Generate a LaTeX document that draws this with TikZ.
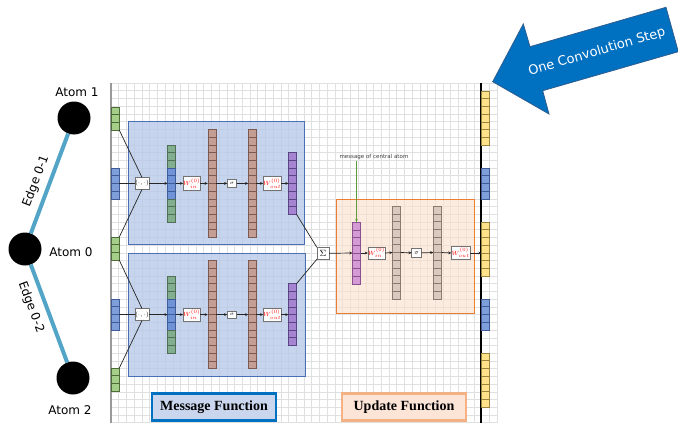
\documentclass[tikz,border=0pt]{standalone}
\usepackage{fontspec}
\setmainfont{DejaVu Sans}
\newfontfamily\serifb{Liberation Serif}
\usetikzlibrary{calc,arrows.meta}

\definecolor{gridc}{HTML}{E0E0E0}
\definecolor{msgfill}{HTML}{B4C7E7}
\definecolor{msgdraw}{HTML}{4A6FB5}
\definecolor{updfill}{HTML}{FBE0CC}
\definecolor{upddraw}{HTML}{ED7D31}
\definecolor{ingreen}{HTML}{A5CF88}
\definecolor{ingreenD}{HTML}{4E6B3A}
\definecolor{inblue}{HTML}{7F9FDB}
\definecolor{inblueD}{HTML}{3F5A95}
\definecolor{cgreen}{HTML}{82AE8D}
\definecolor{cgreenD}{HTML}{4F6F57}
\definecolor{cblue}{HTML}{6F93D6}
\definecolor{cblueD}{HTML}{3D5C99}
\definecolor{brownc}{HTML}{C49E92}
\definecolor{brownD}{HTML}{7A5A52}
\definecolor{purplec}{HTML}{A585D2}
\definecolor{purpleD}{HTML}{5A4585}
\definecolor{pinkc}{HTML}{D49AD6}
\definecolor{pinkD}{HTML}{8A5090}
\definecolor{tanc}{HTML}{D9C9BE}
\definecolor{tanD}{HTML}{8A7A70}
\definecolor{yellowc}{HTML}{FFE28A}
\definecolor{yellowD}{HTML}{9A8540}
\definecolor{edgec}{HTML}{52A5C6}
\definecolor{arrowc}{HTML}{0070C0}
\definecolor{arrowD}{HTML}{2E5D8F}
\definecolor{mlabfill}{HTML}{C9D6EE}
\definecolor{mlabdraw}{HTML}{0070C0}
\definecolor{ulabfill}{HTML}{FCE4D6}
\definecolor{ulabdraw}{HTML}{F4B183}
\definecolor{greenarr}{HTML}{5B9B3A}

% name, x, y (centre), cells, fill, line
\newcommand\cellvec[6]{%
  \node[draw=#6, fill=#5, line width=0.6pt, minimum width=8pt,
        minimum height={#4*7.72pt}, inner sep=0pt, outer sep=0pt] (#1) at ({#2},{#3}) {};%
  \pgfmathtruncatemacro\nmcells{#4-1}%
  \foreach \k in {1,...,\nmcells}{%
    \draw[draw=#6, line width=0.6pt] ({#2-4},{#3-#4*3.86+\k*7.72}) -- ({#2+4},{#3-#4*3.86+\k*7.72});}%
}
\newcommand\redlab[1]{\textcolor{red}{\fontsize{6.5}{6.5}\selectfont$#1$}}

% suffix, centre y, top green, blue, bottom green
\newcommand\msggroup[5]{%
  \node[opbox, minimum width=12.6pt, minimum height=12pt] (op#1) at (142,{#2}) {\fontsize{6}{6}\selectfont$(\cdot,\cdot)$};
  \draw[thinl] (#3.south east) -- (op#1.north);
  \draw[thinl] (#5.north east) -- (op#1.south);
  \draw[thinl] (#4.east) -- (op#1.west);
  \cellvec{cga#1}{171.7}{#2-27.02}{3}{cgreen}{cgreenD}
  \cellvec{cb#1}{171.7}{#2}{4}{cblue}{cblueD}
  \cellvec{cgb#1}{171.7}{#2+27.02}{3}{cgreen}{cgreenD}
  \draw[arr] (op#1.east) -- (cb#1.west);
  \node[opbox, minimum width=15.3pt, minimum height=13.3pt] (wi#1) at (191.7,{#2}) {\redlab{W^{(0)}_{in}}};
  \draw[arr] (cb#1.east) -- (wi#1.west);
  \cellvec{bra#1}{211.8}{#2}{14}{brownc}{brownD}
  \draw[arr] (wi#1.east) -- (bra#1.west);
  \node[opbox, minimum width=9.4pt, minimum height=7.5pt] (sg#1) at (232,{#2}) {\fontsize{5}{5}\selectfont$\sigma$};
  \draw[arr] (bra#1.east) -- (sg#1.west);
  \cellvec{brb#1}{252.3}{#2}{14}{brownc}{brownD}
  \draw[arr] (sg#1.east) -- (brb#1.west);
  \node[opbox, minimum width=15.7pt, minimum height=13.3pt] (wo#1) at (272.2,{#2}) {\redlab{W^{(0)}_{out}}};
  \draw[arr] (brb#1.east) -- (wo#1.west);
  \cellvec{pu#1}{292.5}{#2}{8}{purplec}{purpleD}
  \draw[arr] (wo#1.east) -- (pu#1.west);
}

\begin{document}
\begin{tikzpicture}[x=1pt,y=-1pt,
  opbox/.style={draw=black!55, fill=white, line width=0.6pt, inner sep=0pt, outer sep=0pt},
  thinl/.style={draw=black!85, line width=0.7pt},
  arr/.style={thinl, -{Stealth[length=3.2pt,width=2.8pt]}},
  atom/.style={circle, fill=black, minimum size=33pt, inner sep=0pt},
  lbl/.style={font=\fontsize{12}{14}\selectfont, inner sep=0pt},
  edge/.style={draw=edgec, line width=4pt}]
\useasboundingbox (0,0) rectangle (678,423);
\fill[white] (0,0) rectangle (678,423);

% grid
\foreach \i in {0,...,50} \draw[gridc, line width=0.5pt] ({111+\i*7.72},83) -- ({111+\i*7.72},423);
\foreach \j in {0,...,44} \draw[gridc, line width=0.5pt] (111,{83+\j*7.72}) -- (497,{83+\j*7.72});
\draw[black!40, line width=1.4pt] (111,83) -- (111,423);
\draw[black, line width=1.4pt] (481,83) -- (481,423);

% function boxes
\node[draw=msgdraw, fill=msgfill, fill opacity=0.75, line width=0.9pt, minimum width=176pt, minimum height=123pt, inner sep=0pt] (mb1) at (216,182.5) {};
\node[draw=msgdraw, fill=msgfill, fill opacity=0.75, line width=0.9pt, minimum width=177pt, minimum height=123pt, inner sep=0pt] (mb2) at (216.5,314.5) {};
\node[draw=upddraw, fill=updfill, fill opacity=0.6, line width=0.9pt, minimum width=138pt, minimum height=114pt, inner sep=0pt] (ub) at (405,256) {};

% atoms
\node[atom] (a1) at (74,118) {};
\node[atom] (a0) at (25,249) {};
\node[atom] (a2) at (73,378) {};
\draw[edge] (a0) -- (a1);
\draw[edge] (a0) -- (a2);
\node[lbl] (la1) at (77,92) {Atom 1};
\node[lbl] (la0) at (71,252) {Atom 0};
\node[lbl] (la2) at (70,410) {Atom 2};
\node[lbl, rotate=69.5] (le1) at (36,181) {Edge 0-1};
\node[lbl, rotate=-69.6] (le2) at (31,307) {Edge 0-2};

% input vectors
\cellvec{g1}{115.3}{118.6}{3}{ingreen}{ingreenD}
\cellvec{b1}{115.3}{183.4}{4}{inblue}{inblueD}
\cellvec{g0}{115.3}{248.6}{3}{ingreen}{ingreenD}
\cellvec{b2}{115.3}{314.4}{4}{inblue}{inblueD}
\cellvec{g2}{115.3}{379.6}{3}{ingreen}{ingreenD}

% output vectors
\cellvec{y1}{485.5}{118}{7}{yellowc}{yellowD}
\cellvec{ob1}{485.5}{183.4}{4}{inblue}{inblueD}
\cellvec{y0}{485.5}{249}{7}{yellowc}{yellowD}
\cellvec{ob2}{485.5}{314.4}{4}{inblue}{inblueD}
\cellvec{y2}{485.5}{380}{7}{yellowc}{yellowD}

% message functions
\msggroup{1}{183.4}{g1}{b1}{g0}
\msggroup{2}{314.6}{g0}{b2}{g2}

% aggregation and update
\node[opbox, minimum width=12.3pt, minimum height=12pt] (sum) at (323,253.3) {\fontsize{9}{9}\selectfont$\Sigma$};
\draw[thinl] (pu1.south east) -- (sum.north west);
\draw[thinl] (pu2.north east) -- (sum.south west);
\cellvec{pk}{356.5}{253}{8}{pinkc}{pinkD}
\draw[arr] (sum.east) -- (pk.west);
\node[opbox, minimum width=15pt, minimum height=12pt] (wi3) at (376.5,253) {\redlab{W^{(0)}_{in}}};
\draw[arr] (pk.east) -- (wi3.west);
\cellvec{tn1}{396.5}{252.5}{12}{tanc}{tanD}
\draw[arr] (wi3.east) -- (tn1.west);
\node[opbox, minimum width=10pt, minimum height=9pt] (sg3) at (416.7,252.8) {\fontsize{6}{6}\selectfont$\sigma$};
\draw[arr] (tn1.east) -- (sg3.west);
\cellvec{tn2}{437.5}{252.5}{12}{tanc}{tanD}
\draw[arr] (sg3.east) -- (tn2.west);
\node[opbox, minimum width=18.7pt, minimum height=12.6pt] (wo3) at (460.7,253) {\redlab{W^{(0)}_{out}}};
\draw[arr] (tn2.east) -- (wo3.west);
\draw[arr] (wo3.east) -- (wo3.east -| y0.west);

% message of central atom
\node[font=\fontsize{5.5}{6}\selectfont, text=black!75, inner sep=1pt] (msgc) at (374,157) {message of central atom};
\draw[draw=greenarr, line width=0.8pt, -{Stealth[length=3pt,width=2.6pt]}] (pk |- msgc.south) -- (pk.north);

% labels
\node[draw=mlabdraw, fill=mlabfill, line width=2.5pt, minimum width=124pt, minimum height=27pt, inner sep=0pt,
      font=\serifb\bfseries\fontsize{14}{16}\selectfont] (mlab) at (214,407.2) {Message Function};
\node[draw=ulabdraw, fill=ulabfill, line width=2.5pt, minimum width=124pt, minimum height=27pt, inner sep=0pt,
      font=\serifb\bfseries\fontsize{14}{16}\selectfont] (ulab) at (404,407.2) {Update Function};

% big arrow
\filldraw[fill=arrowc, draw=arrowD, line width=0.8pt, line join=miter]
  (492.7,81.7) -- (523.3,24) -- (530,46.7) -- (666,7.3) -- (678.3,51.7) -- (542.7,90.7) -- (549,114) -- cycle;
\node[rotate=16.3, text=white, font=\fontsize{13}{15}\selectfont] (arrtxt) at (597,52) {One Convolution Step};
\end{tikzpicture}
\end{document}
